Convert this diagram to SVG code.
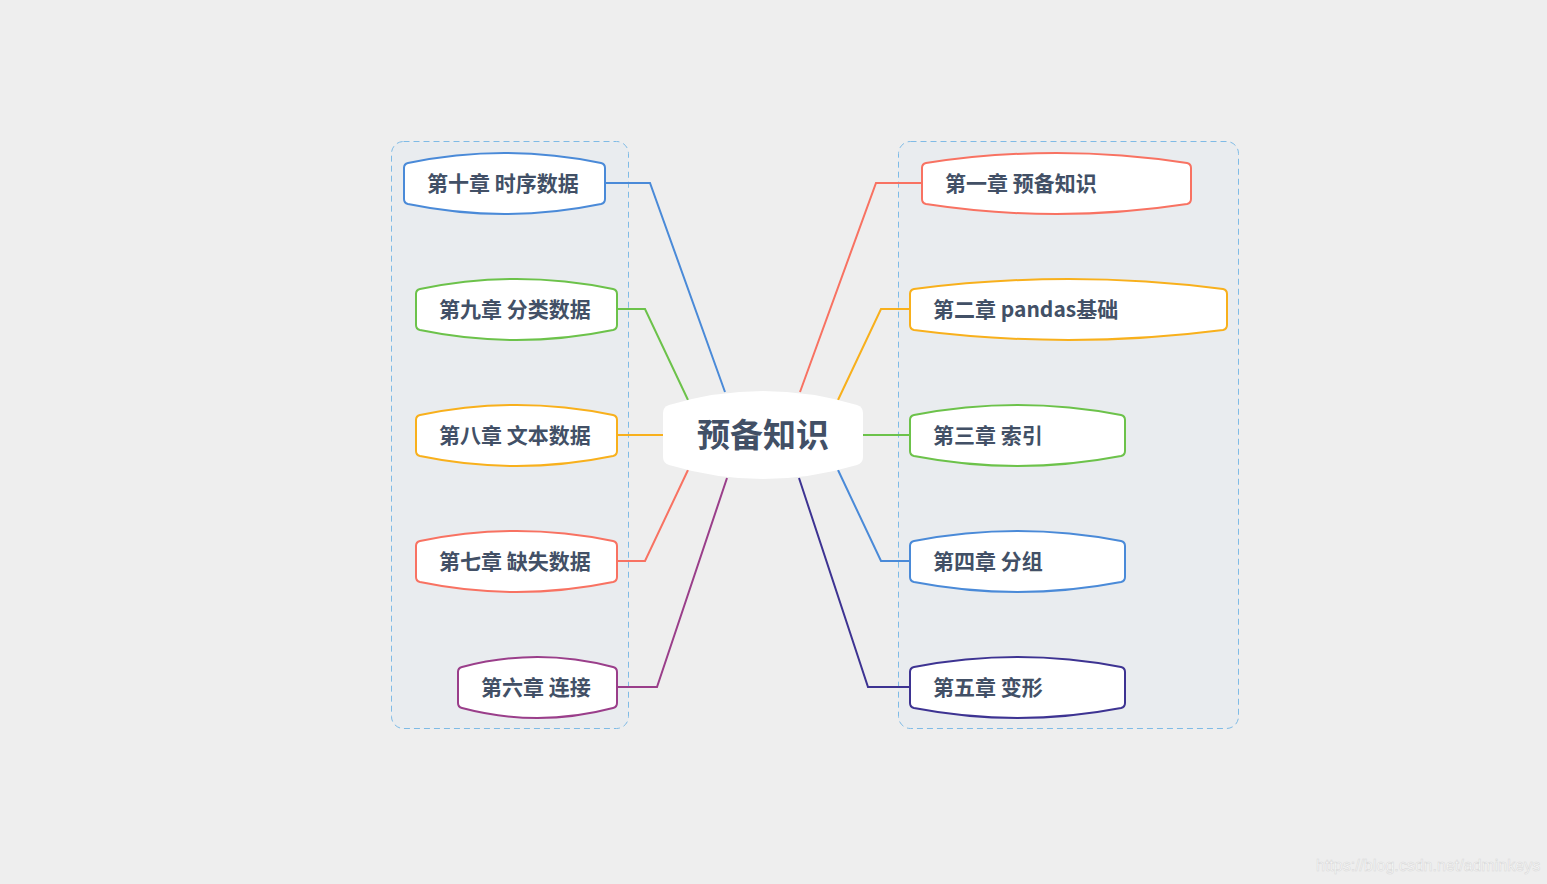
<svg xmlns="http://www.w3.org/2000/svg" width="1547" height="884" viewBox="0 0 1547 884">
<style>
.bg{fill:#eeeeee}
.bound{fill:#e9ecef;stroke:#7fbbe6;stroke-width:1;stroke-dasharray:6 4}
.node{fill:#ffffff;stroke-width:2}
.t{font-family:"Noto Sans CJK SC","Liberation Sans",sans-serif;font-weight:bold;font-size:21px;fill:#425066}
.ct{font-family:"Noto Sans CJK SC","Liberation Sans",sans-serif;font-weight:bold;font-size:33px;fill:#425066}
.c{fill:none;stroke-width:2}
.wm{font-family:"Liberation Sans",sans-serif;font-size:16px;fill:#ffffff;stroke:#d8d8d8;stroke-width:0.6}
</style>
<rect class="bg" x="0" y="0" width="1547" height="884"/>
<g id="boundaries">
<rect class="bound" x="391.5" y="141.5" width="237" height="587" rx="12"/>
<rect class="bound" x="898.5" y="141.5" width="340" height="587" rx="12"/>
</g>
<g id="connectors">
<polyline class="c" stroke="#4a8ad8" points="605,183 650,183 725,392"/>
<polyline class="c" stroke="#6cc24a" points="617,309 645,309 688,400"/>
<polyline class="c" stroke="#f8b01c" points="617,435 663,435"/>
<polyline class="c" stroke="#f87262" points="617,561 645,561 688,470"/>
<polyline class="c" stroke="#9a3e8a" points="617,687 657,687 727,478"/>
<polyline class="c" stroke="#f87262" points="922,183 876,183 800,392"/>
<polyline class="c" stroke="#f8b01c" points="910,309 881,309 838,400"/>
<polyline class="c" stroke="#6cc24a" points="910,435 863,435"/>
<polyline class="c" stroke="#4a8ad8" points="910,561 881,561 838,470"/>
<polyline class="c" stroke="#3d3392" points="910,687 868,687 799,478"/>
</g>
<g id="center">
<path fill="#ffffff" d="M669,405 Q763,377 857,405 Q863,407 863,413 L863,457 Q863,463 857,465 Q763,493 669,465 Q663,463 663,457 L663,413 Q663,407 669,405 Z"/>
<text class="ct" x="763" y="447" text-anchor="middle">预备知识</text>
</g>
<g id="n10">
<path class="node" stroke="#4a8ad8" d="M408,163 Q504.5,143 601,163 Q605,164 605,168 L605,199 Q605,203 601,204 Q504.5,224 408,204 Q404,203 404,199 L404,168 Q404,164 408,163 Z"/>
<text class="t" x="427" y="191">第十章 时序数据</text>
</g>
<g id="n9">
<path class="node" stroke="#6cc24a" d="M420,289 Q516.5,269 613,289 Q617,290 617,294 L617,325 Q617,329 613,330 Q516.5,350 420,330 Q416,329 416,325 L416,294 Q416,290 420,289 Z"/>
<text class="t" x="439" y="317">第九章 分类数据</text>
</g>
<g id="n8">
<path class="node" stroke="#f8b01c" d="M420,415 Q516.5,395 613,415 Q617,416 617,420 L617,451 Q617,455 613,456 Q516.5,476 420,456 Q416,455 416,451 L416,420 Q416,416 420,415 Z"/>
<text class="t" x="439" y="443">第八章 文本数据</text>
</g>
<g id="n7">
<path class="node" stroke="#f87262" d="M420,541 Q516.5,521 613,541 Q617,542 617,546 L617,577 Q617,581 613,582 Q516.5,602 420,582 Q416,581 416,577 L416,546 Q416,542 420,541 Z"/>
<text class="t" x="439" y="569">第七章 缺失数据</text>
</g>
<g id="n6">
<path class="node" stroke="#9a3e8a" d="M462,667 Q537.5,647 613,667 Q617,668 617,672 L617,703 Q617,707 613,708 Q537.5,728 462,708 Q458,707 458,703 L458,672 Q458,668 462,667 Z"/>
<text class="t" x="481" y="695">第六章 连接</text>
</g>
<g id="n1">
<path class="node" stroke="#f87262" d="M926,163 Q1056.5,143 1187,163 Q1191,164 1191,168 L1191,199 Q1191,203 1187,204 Q1056.5,224 926,204 Q922,203 922,199 L922,168 Q922,164 926,163 Z"/>
<text class="t" x="945" y="191">第一章 预备知识</text>
</g>
<g id="n2">
<path class="node" stroke="#f8b01c" d="M914,289 Q1068.5,269 1223,289 Q1227,290 1227,294 L1227,325 Q1227,329 1223,330 Q1068.5,350 914,330 Q910,329 910,325 L910,294 Q910,290 914,289 Z"/>
<text class="t" x="933" y="317">第二章 pandas基础</text>
</g>
<g id="n3">
<path class="node" stroke="#6cc24a" d="M914,415 Q1017.5,395 1121,415 Q1125,416 1125,420 L1125,451 Q1125,455 1121,456 Q1017.5,476 914,456 Q910,455 910,451 L910,420 Q910,416 914,415 Z"/>
<text class="t" x="933" y="443">第三章 索引</text>
</g>
<g id="n4">
<path class="node" stroke="#4a8ad8" d="M914,541 Q1017.5,521 1121,541 Q1125,542 1125,546 L1125,577 Q1125,581 1121,582 Q1017.5,602 914,582 Q910,581 910,577 L910,546 Q910,542 914,541 Z"/>
<text class="t" x="933" y="569">第四章 分组</text>
</g>
<g id="n5">
<path class="node" stroke="#3d3392" d="M914,667 Q1017.5,647 1121,667 Q1125,668 1125,672 L1125,703 Q1125,707 1121,708 Q1017.5,728 914,708 Q910,707 910,703 L910,672 Q910,668 914,667 Z"/>
<text class="t" x="933" y="695">第五章 变形</text>
</g>
<text class="wm" x="1316" y="871">https://blog.csdn.net/adminkeys</text>
</svg>
